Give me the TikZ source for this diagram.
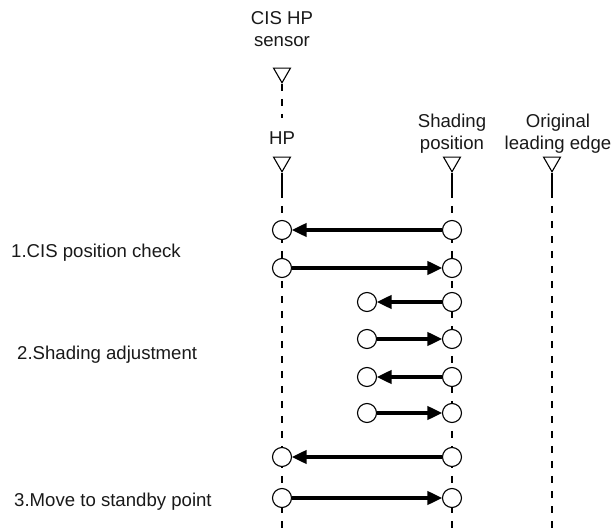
\documentclass[tikz,border=0pt]{standalone}
\usepackage{fontspec}
\setmainfont{Liberation Sans}
\usetikzlibrary{arrows.meta,shapes.geometric}
\begin{document}
\begin{tikzpicture}[x=1pt,y=-1pt,
  lbl/.style={font=\fontsize{18.6}{22.5}\selectfont, text=black!90, inner sep=0pt, align=center, anchor=base},
  side/.style={font=\fontsize{18.6}{22.5}\selectfont, text=black!90, inner sep=0pt, anchor=base west},
  tri/.style={draw, line width=1.1pt, fill=white, regular polygon, regular polygon sides=3, shape border rotate=180, minimum size=19.5pt, inner sep=0pt},
  posc/.style={draw, line width=1.1pt, fill=white, circle, minimum size=19pt, inner sep=0pt},
  dsh/.style={line width=1.1pt, dash pattern=on 7pt off 8pt},
  stem/.style={line width=1.1pt},
  mv/.style={line width=3.8pt, -{Triangle[length=15pt,width=13pt]}, shorten >=-0.5pt}
]
\useasboundingbox (0,0) rectangle (611,529);
% labels
\node[lbl] (cisl) at (282,47) {CIS HP\\sensor};
\node[lbl] (hpl) at (282,145) {HP};
\node[lbl] (shl) at (452,150) {Shading\\position};
\node[lbl] (orl) at (558,150) {Original\\leading edge};
% sensor
\node[tri] (cis) at (282,73) {};
\coordinate (cisend) at (282,118);
\draw[dsh] (cis.south) -- (cisend);
% columns
\coordinate (hpb) at (282,529);
\coordinate (shb) at (452,529);
\coordinate (orb) at (552,529);
\node[tri] (hpt) at (282,162) {};
\node[tri] (sht) at (452,162) {};
\node[tri] (ort) at (552,162) {};
\coordinate (hps) at (282,197);
\coordinate (shs) at (452,197);
\coordinate (ors) at (552,197);
\draw[stem] (hpt.south) -- (hps);
\draw[stem] (sht.south) -- (shs);
\draw[stem] (ort.south) -- (ors);
\draw[dsh] ([yshift=6pt]hps) -- (hpb);
\draw[dsh] ([yshift=6pt]shs) -- (shb);
\draw[dsh] ([yshift=6pt]ors) -- (orb);
% rows
\foreach \n/\y/\xl in {1/230/282,2/268/282,3/302/367,4/339/367,5/377/367,6/413/367,7/457/282,8/498/282}{
  \node[posc] (l\n) at (\xl,\y) {};
  \node[posc] (r\n) at (452,\y) {};
}
\draw[mv] (r1) -- (l1);
\draw[mv] (l2) -- (r2);
\draw[mv] (r3) -- (l3);
\draw[mv] (l4) -- (r4);
\draw[mv] (r5) -- (l5);
\draw[mv] (l6) -- (r6);
\draw[mv] (r7) -- (l7);
\draw[mv] (l8) -- (r8);
% side labels
\node[side] (s1) at (11,258) {1.CIS position check};
\node[side] (s2) at (17,360) {2.Shading adjustment};
\node[side] (s3) at (14,507) {3.Move to standby point};
\end{tikzpicture}
\end{document}
